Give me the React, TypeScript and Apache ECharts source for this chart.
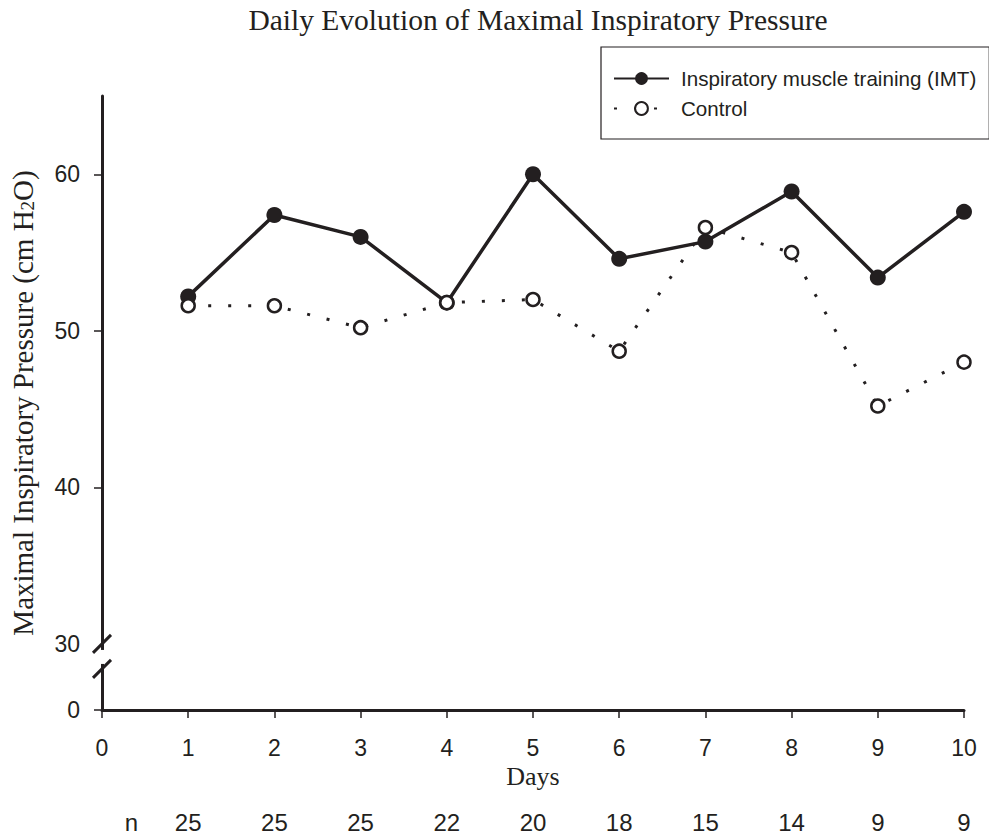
import * as echarts from "echarts";
import { useEffect, useRef } from "react";

const days = [1, 2, 3, 4, 5, 6, 7, 8, 9, 10];
const imtValues = [52.2, 57.4, 56.0, 51.8, 60.0, 54.6, 55.7, 58.9, 53.4, 57.6];
const controlValues = [51.6, 51.6, 50.2, 51.8, 52.0, 48.7, 56.6, 55.0, 45.2, 48.0];
const nCounts = [25, 25, 25, 22, 20, 18, 15, 14, 9, 9];
const yTicks = [40, 50, 60];

const INK = "#231f20";
const SANS = "'Liberation Sans', Arial, sans-serif";
const SERIF = "'Liberation Serif', 'Times New Roman', serif";

// bottom of the y axis stands for 0, the axis is broken just under 30
const Y_BREAK = 30;
const Y_MIN = 25.78;
const Y_MAX = 65;
const N_LABEL_POS = 0.34;

export default function App() {
  const chartRef = useRef<HTMLDivElement | null>(null);

  useEffect(() => {
    if (!chartRef.current) return;
    const chart = echarts.init(chartRef.current, null, { renderer: "svg" });

    chart.setOption({
      animation: false,
      backgroundColor: "#fff",
      title: {
        text: "Daily Evolution of Maximal Inspiratory Pressure",
        left: 533,
        top: 0,
        textAlign: "center",
        textStyle: { fontFamily: SERIF, fontSize: 29.5, fontWeight: "normal", color: INK },
      },
      legend: {
        orient: "vertical",
        left: 601,
        top: 47,
        padding: [21, 13, 20, 12],
        itemWidth: 55,
        itemHeight: 16,
        itemGap: 9,
        selectedMode: false,
        borderColor: INK,
        borderWidth: 1.2,
        borderRadius: 0,
        backgroundColor: "#fff",
        textStyle: { fontFamily: SANS, fontSize: 20.6, color: INK, padding: [0, 0, 0, 7] },
        data: ["Inspiratory muscle training (IMT)", "Control"],
      },
      grid: {
        left: 102,
        right: 25,
        top: 96,
        bottom: 128,
        containLabel: false,
        outerBoundsMode: "none",
      },
      xAxis: [
        {
          type: "value",
          min: 0,
          max: 10,
          interval: 1,
          name: "Days",
          nameLocation: "middle",
          nameGap: 52,
          nameTextStyle: { fontFamily: SERIF, fontSize: 26, color: INK },
          axisLine: { lineStyle: { color: INK, width: 3 } },
          axisTick: { length: 8, lineStyle: { color: INK, width: 1.5 } },
          axisLabel: { fontFamily: SANS, fontSize: 23, color: INK, margin: 26 },
          splitLine: { show: false },
        },
        {
          type: "value",
          min: 0,
          max: 10,
          position: "bottom",
          offset: 80,
          axisLine: { show: false },
          axisTick: { show: false },
          splitLine: { show: false },
          axisLabel: {
            customValues: [N_LABEL_POS, ...days],
            formatter: (v: number) => (v < 1 ? "n" : String(nCounts[Math.round(v) - 1])),
            fontFamily: SANS,
            fontSize: 24,
            color: INK,
            margin: 20,
          },
        },
      ],
      yAxis: {
        type: "value",
        min: Y_MIN,
        max: Y_MAX,
        name: "{a|Maximal Inspiratory Pressure (cm H}{s|2}{a|O)}",
        nameLocation: "middle",
        nameRotate: 90,
        nameGap: 65,
        nameTextStyle: {
          rich: {
            a: { fontFamily: SERIF, fontSize: 29, lineHeight: 29, color: INK },
            s: { fontFamily: SERIF, fontSize: 19, lineHeight: 10, verticalAlign: "bottom", color: INK },
          },
        },
        axisLine: { lineStyle: { color: INK, width: 3 } },
        axisTick: {
          customValues: [Y_MIN, ...yTicks],
          length: 8,
          lineStyle: { color: INK, width: 1.5 },
        },
        axisLabel: {
          customValues: [Y_MIN, Y_BREAK, ...yTicks],
          formatter: (v: number) => (v < Y_BREAK ? "0" : String(v)),
          fontFamily: SANS,
          fontSize: 23,
          color: INK,
          margin: 22,
        },
        splitLine: { show: false },
      },
      series: [
        {
          name: "Inspiratory muscle training (IMT)",
          type: "line",
          data: days.map((d, i) => [d, imtValues[i]]),
          symbol: "circle",
          symbolSize: 16,
          itemStyle: { color: INK },
          lineStyle: { color: INK, width: 3.5 },
          z: 2,
        },
        {
          name: "Control",
          type: "line",
          data: days.map((d, i) => [d, controlValues[i]]),
          symbol: "circle",
          symbolSize: 13,
          itemStyle: { color: "#fff", borderColor: INK, borderWidth: 2.5 },
          lineStyle: { color: INK, width: 3, type: [3, 17] },
          z: 3,
        },
      ],
    });

    // axis break marks, placed from the axis scale
    const x0 = chart.convertToPixel({ xAxisIndex: 0 }, 0) as number;
    const yb = chart.convertToPixel({ yAxisIndex: 0 }, Y_BREAK) as number;
    const slash = { stroke: INK, lineWidth: 3 };
    chart.setOption({
      graphic: [
        { type: "rect", z: 100, shape: { x: x0 - 4, y: yb + 6, width: 8, height: 14 }, style: { fill: "#fff" } },
        { type: "line", z: 101, shape: { x1: x0 - 9, y1: yb + 9, x2: x0 + 9, y2: yb - 9 }, style: slash },
        { type: "line", z: 101, shape: { x1: x0 - 9, y1: yb + 34, x2: x0 + 9, y2: yb + 16 }, style: slash },
      ],
    });

    return () => {
      chart.dispose();
    };
  }, []);

  return (
    <div
      ref={chartRef}
      style={{ position: "fixed", left: 0, top: 0, width: 989, height: 838 }}
    />
  );
}
